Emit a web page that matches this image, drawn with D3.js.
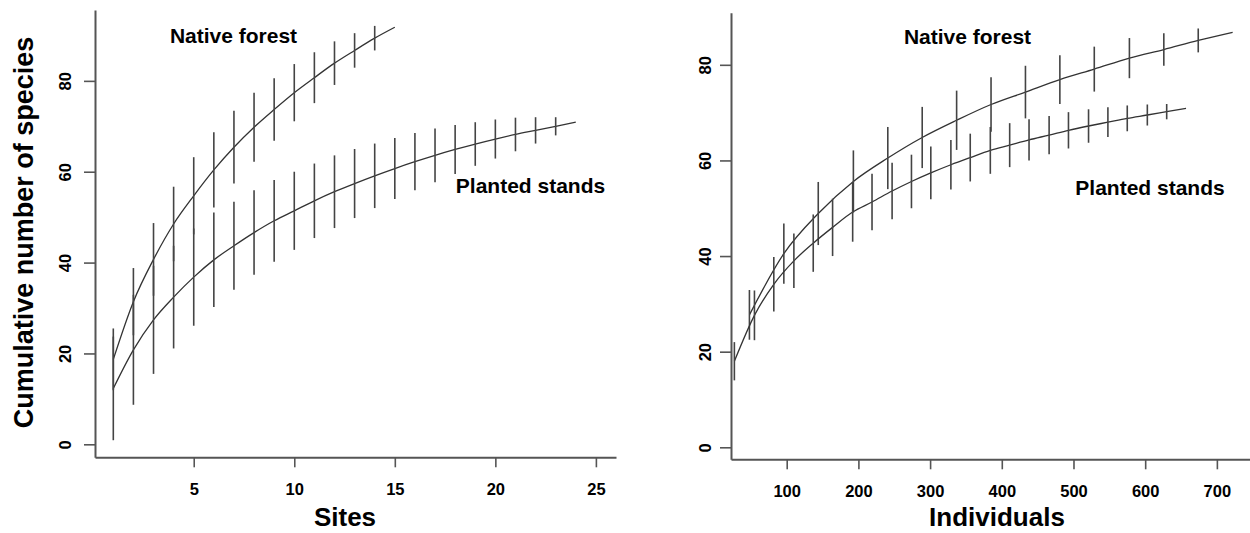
<!DOCTYPE html>
<html>
<head>
<meta charset="utf-8">
<script src="https://cdn.jsdelivr.net/npm/d3@7"></script>
<style>
  body { margin: 0; background: #fff; }
  text { font-family: "Liberation Sans", Arial, Helvetica, sans-serif; font-weight: bold; fill: #000; }
</style>
</head>
<body>
<svg id="chart"></svg>
<script>
// left panel: accumulation by sites
const sitesNative = [1, 2, 3, 4, 5, 6, 7, 8, 9, 10, 11, 12, 13, 14, 15];
const sitesNativeMean = [18.7, 31.4, 40.7, 48.5, 54.7, 60.4, 65.4, 69.8, 73.7, 77.4, 80.7, 83.9, 86.7, 89.4, 91.8];
const sitesNativeErr = [6.8, 7.4, 8.0, 8.2, 8.5, 8.3, 8.0, 7.6, 6.9, 6.3, 5.6, 4.8, 3.8, 2.7, 0];

const sitesPlanted = [1, 2, 3, 4, 5, 6, 7, 8, 9, 10, 11, 12, 13, 14, 15, 16, 17, 18, 19, 20, 21, 22, 23, 24];
const sitesPlantedMean = [12.3, 20.8, 27.4, 32.4, 36.8, 40.6, 43.7, 46.6, 49.2, 51.4, 53.6, 55.6, 57.4, 59.1, 60.7, 62.2, 63.6, 64.9, 66.1, 67.2, 68.2, 69.1, 70.0, 70.9];
const sitesPlantedErr = [11.4, 12.1, 11.9, 11.3, 10.7, 10.4, 9.7, 9.3, 9.0, 8.6, 8.2, 8.0, 7.6, 7.1, 6.7, 6.3, 5.9, 5.4, 4.8, 4.3, 3.7, 2.9, 2.0, 0];

// right panel: accumulation by individuals
const indNative = [48, 96, 144, 193, 241, 289, 337, 385, 433, 481, 529, 578, 626, 674, 722];
const indNativeMean = [27.7, 40.5, 48.9, 55.6, 60.5, 64.8, 68.4, 71.7, 74.3, 76.9, 79.1, 81.4, 83.2, 85.1, 86.8];
const indNativeErr = [5.2, 6.3, 6.6, 6.5, 6.5, 6.4, 6.2, 5.7, 5.5, 5.1, 4.7, 4.2, 3.4, 2.5, 0];

const indPlanted = [27, 55, 82, 110, 137, 164, 192, 219, 247, 274, 301, 329, 356, 384, 411, 438, 466, 493, 521, 548, 575, 603, 630, 657];
const indPlantedMean = [18.0, 27.6, 34.1, 39.0, 42.7, 46.0, 49.2, 51.3, 53.6, 55.6, 57.4, 59.1, 60.6, 62.1, 63.2, 64.3, 65.3, 66.3, 67.2, 68.0, 68.8, 69.5, 70.2, 70.9];
const indPlantedErr = [4.0, 5.2, 5.7, 5.7, 6.0, 6.0, 6.2, 5.9, 5.9, 5.6, 5.5, 5.2, 5.0, 4.9, 4.6, 4.3, 4.0, 3.8, 3.5, 3.1, 2.7, 2.2, 1.6, 0];

const yTicks = [0, 20, 40, 60, 80];
const sitesTicks = [5, 10, 15, 20, 25];
const indTicks = [100, 200, 300, 400, 500, 600, 700];

const width = 1250;
const height = 533;
const svg = d3.select("#chart").attr("width", width).attr("height", height);

const toRows = (xs, means, errs) => xs.map((x, i) => ({ x: x, m: means[i], e: errs[i] }));

function drawPanel(p) {
  const x = d3.scaleLinear().domain(p.xDomain).range(p.xRange);
  const y = d3.scaleLinear().domain(p.yDomain).range(p.yRange);
  const g = svg.append("g");

  const xAxis = d3.axisBottom(x).tickValues(p.xTicks).tickSize(10).tickSizeOuter(0);
  const gx = g.append("g").attr("transform", `translate(0, ${p.yRange[0]})`).call(xAxis);
  gx.selectAll("text").attr("y", 38).attr("dy", null).style("font-size", "16.5px");

  const yAxis = d3.axisLeft(y).tickValues(yTicks).tickSize(11).tickSizeOuter(0);
  const gy = g.append("g").attr("transform", `translate(${p.xRange[0]}, 0)`).call(yAxis);
  gy.selectAll("text")
    .attr("x", null)
    .attr("dy", null)
    .attr("text-anchor", "middle")
    .attr("transform", `translate(${p.yLabelOffset}, 0) rotate(-90)`)
    .style("font-size", "16.5px");

  g.selectAll(".domain").attr("stroke", "#555").attr("stroke-width", 2);
  g.selectAll(".tick line").attr("stroke", "#555").attr("stroke-width", 1.6);
  g.selectAll(".tick text").attr("fill", "#000").style("font-family", "'Liberation Sans', Arial, sans-serif").style("font-weight", "bold");

  const line = d3.line().x((d) => x(d.x)).y((d) => y(d.m)).curve(d3.curveMonotoneX);

  p.series.forEach((s) => {
    g.append("path")
      .datum(s)
      .attr("fill", "none")
      .attr("stroke", "#333")
      .attr("stroke-width", 1.3)
      .attr("d", line);

    g.selectAll(null)
      .data(s.filter((d) => d.e > 0))
      .enter()
      .append("line")
      .attr("x1", (d) => x(d.x))
      .attr("x2", (d) => x(d.x))
      .attr("y1", (d) => y(d.m - d.e))
      .attr("y2", (d) => y(d.m + d.e))
      .attr("stroke", "#444")
      .attr("stroke-width", 1.6);
  });

  p.labels.forEach((l) => {
    g.append("text")
      .attr("x", l.x)
      .attr("y", l.y)
      .attr("text-anchor", "middle")
      .style("font-size", l.size + "px")
      .attr("transform", l.rotate ? `rotate(-90, ${l.x}, ${l.y})` : null)
      .text(l.text);
  });
}

drawPanel({
  xDomain: [0.09, 26.0],
  xRange: [95, 616],
  yDomain: [-2.86, 95.6],
  yRange: [457.3, 10],
  xTicks: sitesTicks,
  yLabelOffset: -24,
  series: [
    toRows(sitesNative, sitesNativeMean, sitesNativeErr),
    toRows(sitesPlanted, sitesPlantedMean, sitesPlantedErr)
  ],
  labels: [
    { text: "Native forest", x: 233.5, y: 43, size: 21 },
    { text: "Planted stands", x: 530.5, y: 193, size: 21 },
    { text: "Sites", x: 345, y: 526, size: 26 },
    { text: "Cumulative number of species", x: 33, y: 232.5, size: 27, rotate: true }
  ]
});

drawPanel({
  xDomain: [22.3, 746.2],
  xRange: [731, 1250],
  yDomain: [-2.51, 90.9],
  yRange: [459.3, 12.7],
  xTicks: indTicks,
  yLabelOffset: -20,
  series: [
    toRows(indNative, indNativeMean, indNativeErr),
    toRows(indPlanted, indPlantedMean, indPlantedErr)
  ],
  labels: [
    { text: "Native forest", x: 967.5, y: 44, size: 21 },
    { text: "Planted stands", x: 1150, y: 195, size: 21 },
    { text: "Individuals", x: 997, y: 526, size: 26 }
  ]
});
</script>
</body>
</html>
